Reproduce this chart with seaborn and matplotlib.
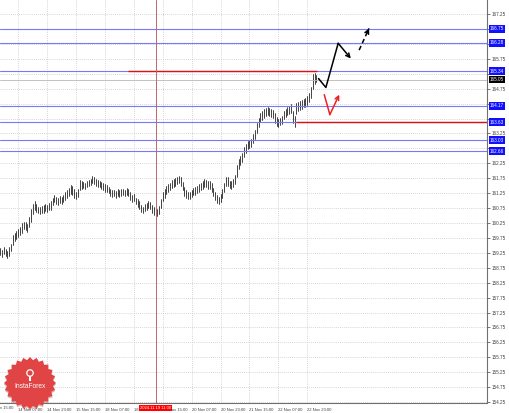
import numpy as np
import pandas as pd
import seaborn as sns
import matplotlib.pyplot as plt
import matplotlib.transforms as mtransforms
from matplotlib.patches import Polygon, Circle

# hourly bars, hour 0 = 13 Nov 15:00
hours = list(range(6, 182))
lows = [159.18, 159.12, 159.22, 159.15, 159.08, 159.16, 159.30, 159.50,
        159.65, 159.70, 159.78, 159.85, 159.92, 160.05, 160.00, 159.95,
        160.10, 160.30, 160.55, 160.70, 160.62, 160.58, 160.55, 160.60,
        160.58, 160.66, 160.62, 160.68, 160.70, 160.85, 160.95, 160.90,
        160.86, 160.92, 160.88, 160.95, 161.02, 161.08, 161.15, 161.22,
        161.20, 161.10, 161.05, 161.12, 161.35, 161.40, 161.42, 161.38,
        161.45, 161.48, 161.52, 161.58, 161.55, 161.50, 161.46, 161.44,
        161.40, 161.36, 161.30, 161.28, 161.24, 161.15, 161.12, 161.14,
        161.10, 161.16, 161.12, 161.15, 161.18, 161.14, 161.20, 161.16,
        161.02, 160.95, 160.98, 160.88, 160.80, 160.72, 160.62, 160.58,
        160.65, 160.70, 160.74, 160.72, 160.60, 160.52, 160.50, 160.48,
        160.56, 160.75, 160.98, 161.10, 161.22, 161.30, 161.35, 161.42,
        161.45, 161.50, 161.55, 161.58, 161.50, 161.35, 161.15, 161.08,
        161.05, 161.06, 161.12, 161.18, 161.20, 161.24, 161.30, 161.35,
        161.40, 161.46, 161.44, 161.38, 161.40, 161.30, 161.15, 161.02,
        160.92, 160.88, 160.96, 161.10, 161.30, 161.48, 161.50, 161.42,
        161.40, 161.46, 161.55, 161.80, 162.05, 162.20, 162.30, 162.45,
        162.60, 162.72, 162.76, 162.80, 162.92, 163.05, 163.25, 163.45,
        163.62, 163.70, 163.78, 163.82, 163.86, 163.84, 163.80, 163.78,
        163.60, 163.50, 163.48, 163.52, 163.56, 163.72, 163.80, 163.86,
        163.90, 163.92, 163.60, 163.45, 163.90, 164.00, 164.05, 164.08,
        164.12, 164.15, 164.20, 164.30, 164.45, 164.75, 164.92, 164.98]
highs = [159.42, 159.36, 159.45, 159.38, 159.30, 159.44, 159.55, 159.86,
         159.90, 159.98, 160.05, 160.12, 160.25, 160.30, 160.28, 160.22,
         160.45, 160.72, 160.90, 161.00, 160.88, 160.80, 160.78, 160.82,
         160.84, 160.90, 160.86, 160.92, 160.98, 161.10, 161.20, 161.12,
         161.08, 161.15, 161.12, 161.20, 161.28, 161.35, 161.42, 161.52,
         161.48, 161.38, 161.30, 161.40, 161.70, 161.66, 161.62, 161.60,
         161.66, 161.70, 161.74, 161.82, 161.78, 161.72, 161.68, 161.66,
         161.62, 161.58, 161.55, 161.52, 161.46, 161.38, 161.34, 161.36,
         161.32, 161.38, 161.34, 161.38, 161.40, 161.36, 161.42, 161.40,
         161.30, 161.18, 161.22, 161.10, 161.04, 160.98, 160.86, 160.80,
         160.88, 160.92, 160.98, 160.94, 160.86, 160.78, 160.74, 160.72,
         160.82, 161.05, 161.28, 161.40, 161.50, 161.55, 161.60, 161.68,
         161.72, 161.76, 161.80, 161.84, 161.78, 161.62, 161.45, 161.34,
         161.30, 161.28, 161.36, 161.42, 161.46, 161.50, 161.56, 161.60,
         161.66, 161.72, 161.70, 161.64, 161.66, 161.58, 161.42, 161.28,
         161.18, 161.12, 161.22, 161.38, 161.60, 161.78, 161.80, 161.66,
         161.64, 161.72, 161.85, 162.20, 162.40, 162.50, 162.60, 162.78,
         162.90, 162.98, 163.02, 163.08, 163.22, 163.38, 163.60, 163.78,
         163.92, 164.00, 164.08, 164.10, 164.14, 164.10, 164.06, 164.04,
         163.92, 163.80, 163.74, 163.78, 163.84, 164.00, 164.08, 164.14,
         164.18, 164.22, 164.00, 163.82, 164.28, 164.30, 164.34, 164.38,
         164.42, 164.45, 164.50, 164.62, 164.82, 165.25, 165.28, 165.22]

time_ticks = [16, 32, 48, 64, 80, 96, 112, 128, 144, 160, 176]
time_labels = ['14 Nov 07:00', '14 Nov 23:00', '15 Nov 15:00', '18 Nov 07:00',
               '18 Nov 23:00', '19 Nov 15:00', '20 Nov 07:00', '20 Nov 23:00',
               '21 Nov 15:00', '22 Nov 07:00', '22 Nov 23:00']
price_ticks = np.arange(154.25, 167.3, 0.5)

blue_levels = [166.75, 166.28, 165.34, 164.17, 163.63, 163.03, 162.66]
bid = 165.05
red_top = (165.34, 76.7, 181.5)
red_bottom = (163.63, 170, 276)
cursor_hour = 92
cursor_label = '2024.11.19 11:00'

black_path = [(182.2, 165.09), (186.3, 164.79), (193.1, 166.27), (200.1, 165.76)]
black_dashed = [(204.7, 166.04), (210.2, 166.77)]
red_path = [(185.4, 164.55), (188.5, 163.88), (193.7, 164.55)]

bars = pd.DataFrame({'hour': hours + hours, 'price': lows + highs, 'bar': hours + hours})

sns.set_style('white')
plt.rcParams['font.family'] = ['Liberation Sans', 'DejaVu Sans']
FS = 3.3

fig = plt.figure(figsize=(5.1, 4.13), dpi=100)
ax = fig.add_axes([0, 10 / 413, 487 / 510, 403 / 413])

sns.lineplot(data=bars, x='hour', y='price', units='bar', estimator=None,
             color='#111111', lw=0.55, ax=ax, legend=False)

ax.set_xlim(5.87, 275.5)
ax.set_ylim(154.22, 167.72)
ax.set_xlabel('')
ax.set_ylabel('')

# tick labels hidden behind the level boxes
marked = blue_levels + [bid]
shown = [f'{p:.2f}' if min(abs(p - m) for m in marked) > 0.16 else '' for p in price_ticks]

ax.yaxis.tick_right()
ax.set_yticks(price_ticks)
ax.set_yticklabels(shown)
ax.set_xticks(time_ticks)
ax.set_xticklabels(time_labels, ha='left')
ax.tick_params(axis='both', labelsize=FS, colors='#404040', length=2, width=0.5, pad=1.5)
ax.tick_params(axis='x', labelsize=3.0)
ax.grid(True, color='#c8c8c8', linestyle=(0, (1, 1.5)), lw=0.6)
for s in ['top', 'left']:
    ax.spines[s].set_visible(False)
for s in ['right', 'bottom']:
    ax.spines[s].set_color('#707070')
    ax.spines[s].set_linewidth(0.8)

trans_y = mtransforms.blended_transform_factory(ax.transAxes, ax.transData)
trans_x = mtransforms.blended_transform_factory(ax.transData, ax.transAxes)

ax.text(0, -0.007, '13 Nov 15:00', transform=trans_x, fontsize=3.0, color='#404040',
        ha='left', va='top', clip_on=False)

# levels
for lvl in blue_levels:
    ax.axhline(lvl, color='#7878ff', lw=0.8)
    ax.text(1.006, lvl, f'{lvl:.2f}', transform=trans_y, fontsize=FS, color='white',
            ha='left', va='center', clip_on=False, zorder=6,
            bbox=dict(boxstyle='square,pad=0.25', fc='#1010ff', ec='none'))
ax.axhline(bid, color='#b8b8b8', lw=0.6)
ax.text(1.006, bid, f'{bid:.2f}', transform=trans_y, fontsize=FS, color='white',
        ha='left', va='center', clip_on=False, zorder=7,
        bbox=dict(boxstyle='square,pad=0.25', fc='black', ec='none'))

ax.hlines(red_top[0], red_top[1], red_top[2], color='#dd1111', lw=1.0)
ax.hlines(red_bottom[0], red_bottom[1], red_bottom[2], color='#dd1111', lw=1.0)

ax.axvline(cursor_hour, color='#c06868', lw=0.7)
ax.text(cursor_hour, -0.007, cursor_label, transform=trans_x, fontsize=3.0, color='white',
        ha='center', va='top', clip_on=False, zorder=8,
        bbox=dict(boxstyle='square,pad=0.3', fc='#ff0000', ec='none'))

# forecast arrows
bx, by = zip(*black_path)
ax.plot(bx[:-1], by[:-1], color='black', lw=1.1)
ax.annotate('', xy=black_path[-1], xytext=black_path[-2],
            arrowprops=dict(arrowstyle='->', color='black', lw=1.1, mutation_scale=7,
                            shrinkA=0, shrinkB=0))
dx, dy = zip(*black_dashed)
ax.plot(dx, dy, color='black', lw=1.1, dashes=(3, 2))
ax.annotate('', xy=black_dashed[-1],
            xytext=(black_dashed[-1][0] - 1.2, black_dashed[-1][1] - 0.16),
            arrowprops=dict(arrowstyle='->', color='black', lw=1.1, mutation_scale=7,
                            shrinkA=0, shrinkB=0))
rx, ry = zip(*red_path)
ax.plot(rx[:-1], ry[:-1], color='#ee2020', lw=1.1)
ax.annotate('', xy=red_path[-1], xytext=red_path[-2],
            arrowprops=dict(arrowstyle='->', color='#ee2020', lw=1.1, mutation_scale=7,
                            shrinkA=0, shrinkB=0))

# InstaForex badge (pixel coordinates)
cx, cy = 30, 30
ang = np.linspace(0, 2 * np.pi, 49)[:-1]
rad = np.where(np.arange(48) % 2 == 0, 26, 23)
star = np.column_stack([cx + rad * np.cos(ang), cy + rad * np.sin(ang)])
fig.add_artist(Polygon(star + [0, -1.5], closed=True, fc='#a02020', ec='none',
                       alpha=0.35, transform=None))
fig.add_artist(Polygon(star, closed=True, fc='#e04444', ec='none', transform=None))
fig.add_artist(Circle((cx, cy + 10), 3.2, fc='none', ec='white', lw=0.9, transform=None))
fig.add_artist(Polygon([[cx - 1, cy + 7], [cx + 1, cy + 7], [cx + 1, cy + 2], [cx - 1, cy + 2]],
                       closed=True, fc='white', ec='none', transform=None))
fig.text(cx / 510, (cy - 3) / 413, 'InstaForex', color='white', fontsize=4.8,
         ha='center', va='center')

fig.savefig('out.png', dpi=100)
